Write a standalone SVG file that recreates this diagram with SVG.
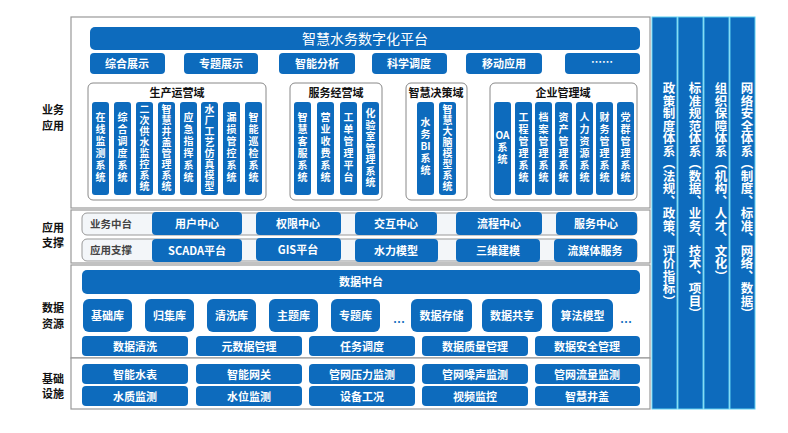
<svg xmlns="http://www.w3.org/2000/svg" width="788" height="433" viewBox="0 0 788 433">
<style>
text{font-family:"Noto Sans CJK SC","Liberation Sans",sans-serif;font-weight:bold}
.b{fill:#0d6bbd}
.w{fill:#fff;font-size:11px;text-anchor:middle}
.v{fill:#fff;font-size:10px;text-anchor:middle}
.vr{fill:#fff;font-size:12.5px;writing-mode:vertical-rl;text-anchor:start}
.frame{fill:#fff;stroke:#999;stroke-width:1.2}
.dom{fill:#fff;stroke:#888;stroke-width:1}
.lab{fill:#111;font-size:11px;text-anchor:middle}
.dt{fill:#111;font-size:11px;text-anchor:middle}
.gl{fill:#f3f6f9;stroke:#999;stroke-width:1}
.gt{fill:#444;font-size:10.5px}
</style>
<rect width="788" height="433" fill="#fff"/>
<g id="frames">
<rect class="frame" x="71" y="17" width="579" height="191"/>
<rect class="frame" x="71" y="210" width="579" height="53"/>
<rect class="frame" x="71" y="265" width="579" height="93"/>
<rect class="frame" x="71" y="358" width="579" height="51"/>
</g>
<g id="leftlabels">
<text class="lab" x="53" y="114">业务</text><text class="lab" x="53" y="130">应用</text>
<text class="lab" x="53" y="232">应用</text><text class="lab" x="53" y="247">支撑</text>
<text class="lab" x="53" y="312">数据</text><text class="lab" x="53" y="328">资源</text>
<text class="lab" x="53" y="383">基础</text><text class="lab" x="53" y="398">设施</text>
</g>
<g id="top">
<rect class="b" x="90" y="27" width="550" height="23" rx="5"/>
<text x="365" y="44" text-anchor="middle" fill="#fff" font-size="14" style="font-weight:normal">智慧水务数字化平台</text>
<rect class="b" x="90" y="53" width="75" height="21" rx="4"/><text class="w" x="127" y="68">综合展示</text>
<rect class="b" x="184" y="53" width="74" height="21" rx="4"/><text class="w" x="221" y="68">专题展示</text>
<rect class="b" x="279" y="53" width="76" height="21" rx="4"/><text class="w" x="317" y="68">智能分析</text>
<rect class="b" x="372" y="53" width="75" height="21" rx="4"/><text class="w" x="409" y="68">科学调度</text>
<rect class="b" x="466" y="53" width="76" height="21" rx="4"/><text class="w" x="504" y="68">移动应用</text>
<rect class="b" x="565" y="53" width="75" height="21" rx="4"/><text class="w" x="602" y="66">……</text>
</g>
<g id="domains">
<rect class="dom" x="88" y="83" width="178" height="117" rx="5"/>
<text class="dt" x="177" y="97">生产运营域</text>
<rect class="dom" x="290" y="83" width="92" height="117" rx="5"/>
<text class="dt" x="336" y="97">服务经营域</text>
<rect class="dom" x="406" y="83" width="61" height="117" rx="5"/>
<text class="dt" x="436" y="97">智慧决策域</text>
<rect class="dom" x="490" y="83" width="147" height="117" rx="5"/>
<text class="dt" x="563" y="97">企业管理域</text>
</g>
<g id="bars">
<rect class="b" x="92" y="102" width="17" height="93" rx="3"/>
<text class="v" x="100.5" y="121">在<tspan x="100.5" dy="12">线</tspan><tspan x="100.5" dy="12">监</tspan><tspan x="100.5" dy="12">测</tspan><tspan x="100.5" dy="12">系</tspan><tspan x="100.5" dy="12">统</tspan></text>
<rect class="b" x="114" y="102" width="17" height="93" rx="3"/>
<text class="v" x="122.5" y="121">综<tspan x="122.5" dy="12">合</tspan><tspan x="122.5" dy="12">调</tspan><tspan x="122.5" dy="12">度</tspan><tspan x="122.5" dy="12">系</tspan><tspan x="122.5" dy="12">统</tspan></text>
<rect class="b" x="136" y="102" width="17" height="93" rx="3"/>
<text class="v" x="144.5" y="113">二<tspan x="144.5" dy="11">次</tspan><tspan x="144.5" dy="11">供</tspan><tspan x="144.5" dy="11">水</tspan><tspan x="144.5" dy="11">监</tspan><tspan x="144.5" dy="11">控</tspan><tspan x="144.5" dy="11">系</tspan><tspan x="144.5" dy="11">统</tspan></text>
<rect class="b" x="158" y="102" width="17" height="93" rx="3"/>
<text class="v" x="166.5" y="113">智<tspan x="166.5" dy="11">慧</tspan><tspan x="166.5" dy="11">井</tspan><tspan x="166.5" dy="11">盖</tspan><tspan x="166.5" dy="11">管</tspan><tspan x="166.5" dy="11">理</tspan><tspan x="166.5" dy="11">系</tspan><tspan x="166.5" dy="11">统</tspan></text>
<rect class="b" x="180" y="102" width="17" height="93" rx="3"/>
<text class="v" x="188.5" y="121">应<tspan x="188.5" dy="12">急</tspan><tspan x="188.5" dy="12">指</tspan><tspan x="188.5" dy="12">挥</tspan><tspan x="188.5" dy="12">系</tspan><tspan x="188.5" dy="12">统</tspan></text>
<rect class="b" x="201" y="102" width="17" height="93" rx="3"/>
<text class="v" x="209.5" y="113">水<tspan x="209.5" dy="11">厂</tspan><tspan x="209.5" dy="11">工</tspan><tspan x="209.5" dy="11">艺</tspan><tspan x="209.5" dy="11">仿</tspan><tspan x="209.5" dy="11">真</tspan><tspan x="209.5" dy="11">模</tspan><tspan x="209.5" dy="11">型</tspan></text>
<rect class="b" x="223" y="102" width="17" height="93" rx="3"/>
<text class="v" x="231.5" y="121">漏<tspan x="231.5" dy="12">损</tspan><tspan x="231.5" dy="12">管</tspan><tspan x="231.5" dy="12">控</tspan><tspan x="231.5" dy="12">系</tspan><tspan x="231.5" dy="12">统</tspan></text>
<rect class="b" x="245" y="102" width="17" height="93" rx="3"/>
<text class="v" x="253.5" y="121">智<tspan x="253.5" dy="12">能</tspan><tspan x="253.5" dy="12">巡</tspan><tspan x="253.5" dy="12">检</tspan><tspan x="253.5" dy="12">系</tspan><tspan x="253.5" dy="12">统</tspan></text>
<rect class="b" x="294" y="102" width="17" height="93" rx="3"/>
<text class="v" x="302.5" y="121">智<tspan x="302.5" dy="12">慧</tspan><tspan x="302.5" dy="12">客</tspan><tspan x="302.5" dy="12">服</tspan><tspan x="302.5" dy="12">系</tspan><tspan x="302.5" dy="12">统</tspan></text>
<rect class="b" x="317" y="102" width="17" height="93" rx="3"/>
<text class="v" x="325.5" y="121">营<tspan x="325.5" dy="12">业</tspan><tspan x="325.5" dy="12">收</tspan><tspan x="325.5" dy="12">费</tspan><tspan x="325.5" dy="12">系</tspan><tspan x="325.5" dy="12">统</tspan></text>
<rect class="b" x="340" y="102" width="17" height="93" rx="3"/>
<text class="v" x="348.5" y="121">工<tspan x="348.5" dy="12">单</tspan><tspan x="348.5" dy="12">管</tspan><tspan x="348.5" dy="12">理</tspan><tspan x="348.5" dy="12">平</tspan><tspan x="348.5" dy="12">台</tspan></text>
<rect class="b" x="362" y="102" width="17" height="93" rx="3"/>
<text class="v" x="370.5" y="117">化<tspan x="370.5" dy="11.5">验</tspan><tspan x="370.5" dy="11.5">室</tspan><tspan x="370.5" dy="11.5">管</tspan><tspan x="370.5" dy="11.5">理</tspan><tspan x="370.5" dy="11.5">系</tspan><tspan x="370.5" dy="11.5">统</tspan></text>
<rect class="b" x="417" y="102" width="17" height="93" rx="3"/>
<text class="v" x="425.5" y="126">水<tspan x="425.5" dy="12">务</tspan><tspan x="425.5" dy="12">BI</tspan><tspan x="425.5" dy="12">系</tspan><tspan x="425.5" dy="12">统</tspan></text>
<rect class="b" x="439" y="102" width="17" height="93" rx="3"/>
<text class="v" x="447.5" y="113">智<tspan x="447.5" dy="11">慧</tspan><tspan x="447.5" dy="11">大</tspan><tspan x="447.5" dy="11">脑</tspan><tspan x="447.5" dy="11">模</tspan><tspan x="447.5" dy="11">型</tspan><tspan x="447.5" dy="11">系</tspan><tspan x="447.5" dy="11">统</tspan></text>
<rect class="b" x="494" y="102" width="17" height="93" rx="3"/>
<text class="v" x="502.5" y="139">OA<tspan x="502.5" dy="12">系</tspan><tspan x="502.5" dy="12">统</tspan></text>
<rect class="b" x="515" y="102" width="17" height="93" rx="3"/>
<text class="v" x="523.5" y="121">工<tspan x="523.5" dy="12">程</tspan><tspan x="523.5" dy="12">管</tspan><tspan x="523.5" dy="12">理</tspan><tspan x="523.5" dy="12">系</tspan><tspan x="523.5" dy="12">统</tspan></text>
<rect class="b" x="535" y="102" width="17" height="93" rx="3"/>
<text class="v" x="543.5" y="121">档<tspan x="543.5" dy="12">案</tspan><tspan x="543.5" dy="12">管</tspan><tspan x="543.5" dy="12">理</tspan><tspan x="543.5" dy="12">系</tspan><tspan x="543.5" dy="12">统</tspan></text>
<rect class="b" x="555" y="102" width="17" height="93" rx="3"/>
<text class="v" x="563.5" y="121">资<tspan x="563.5" dy="12">产</tspan><tspan x="563.5" dy="12">管</tspan><tspan x="563.5" dy="12">理</tspan><tspan x="563.5" dy="12">系</tspan><tspan x="563.5" dy="12">统</tspan></text>
<rect class="b" x="576" y="102" width="17" height="93" rx="3"/>
<text class="v" x="584.5" y="121">人<tspan x="584.5" dy="12">力</tspan><tspan x="584.5" dy="12">资</tspan><tspan x="584.5" dy="12">源</tspan><tspan x="584.5" dy="12">系</tspan><tspan x="584.5" dy="12">统</tspan></text>
<rect class="b" x="596" y="102" width="17" height="93" rx="3"/>
<text class="v" x="604.5" y="121">财<tspan x="604.5" dy="12">务</tspan><tspan x="604.5" dy="12">管</tspan><tspan x="604.5" dy="12">理</tspan><tspan x="604.5" dy="12">系</tspan><tspan x="604.5" dy="12">统</tspan></text>
<rect class="b" x="617" y="102" width="17" height="93" rx="3"/>
<text class="v" x="625.5" y="121">党<tspan x="625.5" dy="12">群</tspan><tspan x="625.5" dy="12">管</tspan><tspan x="625.5" dy="12">理</tspan><tspan x="625.5" dy="12">系</tspan><tspan x="625.5" dy="12">统</tspan></text>
</g>
<g id="support">
<rect class="gl" x="82" y="213" width="555" height="22" rx="5"/>
<text class="gt" x="90" y="228">业务中台</text>
<rect class="gl" x="82" y="239" width="555" height="22" rx="5"/>
<text class="gt" x="90" y="254">应用支撑</text>
<rect class="b" x="152" y="212" width="90" height="23" rx="4"/><text class="w" x="197" y="228">用户中心</text>
<rect class="b" x="256" y="212" width="85" height="23" rx="4"/><text class="w" x="298" y="228">权限中心</text>
<rect class="b" x="355" y="212" width="82" height="23" rx="4"/><text class="w" x="396" y="228">交互中心</text>
<rect class="b" x="456" y="212" width="86" height="23" rx="4"/><text class="w" x="499" y="228">流程中心</text>
<rect class="b" x="556" y="212" width="81" height="23" rx="4"/><text class="w" x="596" y="228">服务中心</text>
<rect class="b" x="152" y="239" width="90" height="23" rx="4"/><text class="w" x="197" y="255">SCADA平台</text>
<rect class="b" x="256" y="238" width="85" height="23" rx="4"/><text class="w" x="298" y="254">GIS平台</text>
<rect class="b" x="355" y="239" width="83" height="23" rx="4"/><text class="w" x="396" y="255">水力模型</text>
<rect class="b" x="456" y="239" width="84" height="23" rx="4"/><text class="w" x="498" y="255">三维建模</text>
<rect class="b" x="554" y="239" width="83" height="23" rx="4"/><text class="w" x="595" y="255">流媒体服务</text>
</g>
<g id="data">
<rect class="b" x="82" y="270" width="558" height="24" rx="5"/>
<text class="w" x="361" y="286">数据中台</text>
<rect class="b" x="83" y="299" width="49" height="33" rx="6"/><text class="w" x="107.5" y="320" font-size="10">基础库</text>
<rect class="b" x="145" y="299" width="49" height="33" rx="6"/><text class="w" x="169.5" y="320">归集库</text>
<rect class="b" x="207" y="299" width="49" height="33" rx="6"/><text class="w" x="231.5" y="320">清洗库</text>
<rect class="b" x="269" y="299" width="49" height="33" rx="6"/><text class="w" x="293.5" y="320">主题库</text>
<rect class="b" x="331" y="299" width="49" height="33" rx="6"/><text class="w" x="355.5" y="320">专题库</text>
<text x="393" y="327" fill="#0d6bbd" font-size="12" style="font-weight:bold">…</text>
<rect class="b" x="411" y="299" width="61" height="33" rx="6"/><text class="w" x="441.5" y="320">数据存储</text>
<rect class="b" x="482" y="299" width="60" height="33" rx="6"/><text class="w" x="512" y="320">数据共享</text>
<rect class="b" x="552" y="299" width="61" height="33" rx="6"/><text class="w" x="582.5" y="320">算法模型</text>
<text x="620" y="327" fill="#0d6bbd" font-size="12" style="font-weight:bold">…</text>
<rect class="b" x="82" y="336" width="106" height="20" rx="4"/><text class="w" x="135" y="351" font-size="12">数据清洗</text>
<rect class="b" x="196" y="336" width="106" height="20" rx="4"/><text class="w" x="249" y="351" font-size="12">元数据管理</text>
<rect class="b" x="309" y="336" width="106" height="20" rx="4"/><text class="w" x="362" y="351" font-size="12">任务调度</text>
<rect class="b" x="422" y="336" width="106" height="20" rx="4"/><text class="w" x="475" y="351" font-size="12">数据质量管理</text>
<rect class="b" x="535" y="336" width="105" height="20" rx="4"/><text class="w" x="587" y="351" font-size="12">数据安全管理</text>
</g>
<g id="infra">
<rect class="b" x="82" y="364" width="106" height="20" rx="4"/><text class="w" x="135" y="379" font-size="12">智能水表</text>
<rect class="b" x="196" y="364" width="106" height="20" rx="4"/><text class="w" x="249" y="379" font-size="12">智能网关</text>
<rect class="b" x="309" y="364" width="106" height="20" rx="4"/><text class="w" x="362" y="379" font-size="12">管网压力监测</text>
<rect class="b" x="422" y="364" width="106" height="20" rx="4"/><text class="w" x="475" y="379" font-size="12">管网噪声监测</text>
<rect class="b" x="535" y="364" width="105" height="20" rx="4"/><text class="w" x="587" y="379" font-size="12">管网流量监测</text>
<rect class="b" x="82" y="386" width="106" height="20" rx="4"/><text class="w" x="135" y="401" font-size="12">水质监测</text>
<rect class="b" x="196" y="386" width="106" height="20" rx="4"/><text class="w" x="249" y="401" font-size="12">水位监测</text>
<rect class="b" x="309" y="386" width="106" height="20" rx="4"/><text class="w" x="362" y="401" font-size="12">设备工况</text>
<rect class="b" x="422" y="386" width="106" height="20" rx="4"/><text class="w" x="475" y="401" font-size="12">视频监控</text>
<rect class="b" x="535" y="386" width="105" height="20" rx="4"/><text class="w" x="587" y="401" font-size="12">智慧井盖</text>
</g>
<g id="pillars">
<rect class="b" x="652" y="17" width="25" height="392" stroke="#5fd0f0" stroke-width="1"/>
<text class="vr" x="669" y="82">政策制度体系（法规、政策、评价指标）</text>
<rect class="b" x="678" y="17" width="25" height="392" stroke="#5fd0f0" stroke-width="1"/>
<text class="vr" x="695" y="82">标准规范体系（数据、业务、技术、项目）</text>
<rect class="b" x="704" y="17" width="25" height="392" stroke="#5fd0f0" stroke-width="1"/>
<text class="vr" x="721" y="82">组织保障体系（机构、人才、文化）</text>
<rect class="b" x="730" y="17" width="25" height="392" stroke="#5fd0f0" stroke-width="1"/>
<text class="vr" x="747" y="82">网络安全体系（制度、标准、网络、数据）</text>
</g>
<g id="connectors"></g>
</svg>
